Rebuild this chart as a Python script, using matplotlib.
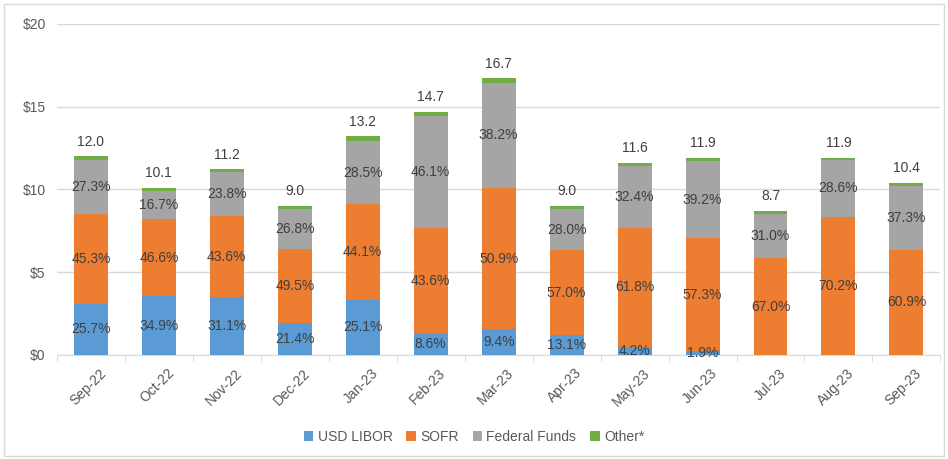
import matplotlib
matplotlib.use('Agg')
import matplotlib.pyplot as plt
from matplotlib.patches import Rectangle
from matplotlib.transforms import ScaledTranslation
import numpy as np

months = ['Sep-22', 'Oct-22', 'Nov-22', 'Dec-22', 'Jan-23', 'Feb-23', 'Mar-23',
          'Apr-23', 'May-23', 'Jun-23', 'Jul-23', 'Aug-23', 'Sep-23']
totals = [12.0, 10.1, 11.2, 9.0, 13.2, 14.7, 16.7, 9.0, 11.6, 11.9, 8.7, 11.9, 10.4]

# share of each rate (%)
libor_pct = [25.7, 34.9, 31.1, 21.4, 25.1, 8.6, 9.4, 13.1, 4.2, 1.9, 0.0, 0.0, 0.0]
sofr_pct = [45.3, 46.6, 43.6, 49.5, 44.1, 43.6, 50.9, 57.0, 61.8, 57.3, 67.0, 70.2, 60.9]
fedfunds_pct = [27.3, 16.7, 23.8, 26.8, 28.5, 46.1, 38.2, 28.0, 32.4, 39.2, 31.0, 28.6, 37.3]
other_pct = [1.7, 1.8, 1.5, 2.3, 2.3, 1.7, 1.5, 1.9, 1.6, 1.6, 2.0, 1.2, 1.8]

series = [
    ('USD LIBOR', libor_pct, '#5B9BD5', True),
    ('SOFR', sofr_pct, '#ED7D31', True),
    ('Federal Funds', fedfunds_pct, '#A5A5A5', True),
    ('Other*', other_pct, '#70AD47', False),
]

plt.rcParams['font.family'] = ['Liberation Sans', 'DejaVu Sans']
txt = '#404040'
axcol = '#595959'

fig = plt.figure(figsize=(9.48, 4.59), dpi=100)
ax = fig.add_axes([0.060, 0.227, 0.932, 0.721])

x = np.arange(len(months))
tot = np.array(totals)
bottom = np.zeros(len(months))
for name, pct, color, label in series:
    vals = tot * np.array(pct) / 100
    ax.bar(x, vals, 0.5, bottom=bottom, color=color, label=name, zorder=3)
    if label:
        for i, (v, p) in enumerate(zip(vals, pct)):
            if p > 0:
                ax.text(x[i], bottom[i] + v / 2, f'{p:.1f}%', ha='center', va='center',
                        fontsize=10, color=txt, zorder=4)
    bottom += vals

for i, t in enumerate(totals):
    ax.text(x[i], t + 0.45, f'{t:.1f}', ha='center', va='bottom', fontsize=10, color=txt)

ax.set_ylim(0, 20)
ax.set_xlim(-0.5, len(months) - 0.5)
ax.set_yticks([0, 5, 10, 15, 20])
ax.set_yticklabels(['$0', '$5', '$10', '$15', '$20'])
ax.yaxis.grid(True, color='#d9d9d9', linewidth=1, zorder=0)
ax.tick_params(axis='y', length=0, labelsize=10, labelcolor=axcol, pad=8)
ax.set_xticks(x)
ax.set_xticklabels(months, rotation=45, ha='right', rotation_mode='anchor')
ax.tick_params(axis='x', length=0, labelsize=10, labelcolor=axcol, pad=8)
shift = ScaledTranslation(8 / 100, 0, fig.dpi_scale_trans)
for lbl in ax.get_xticklabels():
    lbl.set_transform(lbl.get_transform() + shift)
ax.set_xticks(np.arange(-0.5, len(months)), minor=True)
ax.tick_params(axis='x', which='minor', length=5, color='#d9d9d9', direction='out')
for s in ['top', 'right', 'left']:
    ax.spines[s].set_visible(False)
ax.spines['bottom'].set_color('#d9d9d9')

handles, labels = ax.get_legend_handles_labels()
fig.legend(handles, labels, loc='center', bbox_to_anchor=(0.5, 0.048), ncol=4,
           frameon=False, fontsize=10, labelcolor=axcol, handlelength=0.7,
           handleheight=0.7, handletextpad=0.3, columnspacing=1.0)

fig.patches.append(Rectangle((0.004, 0.006), 0.992, 0.986, transform=fig.transFigure,
                             fill=False, edgecolor='#d9d9d9', linewidth=1))

fig.savefig('out.png', dpi=100)
